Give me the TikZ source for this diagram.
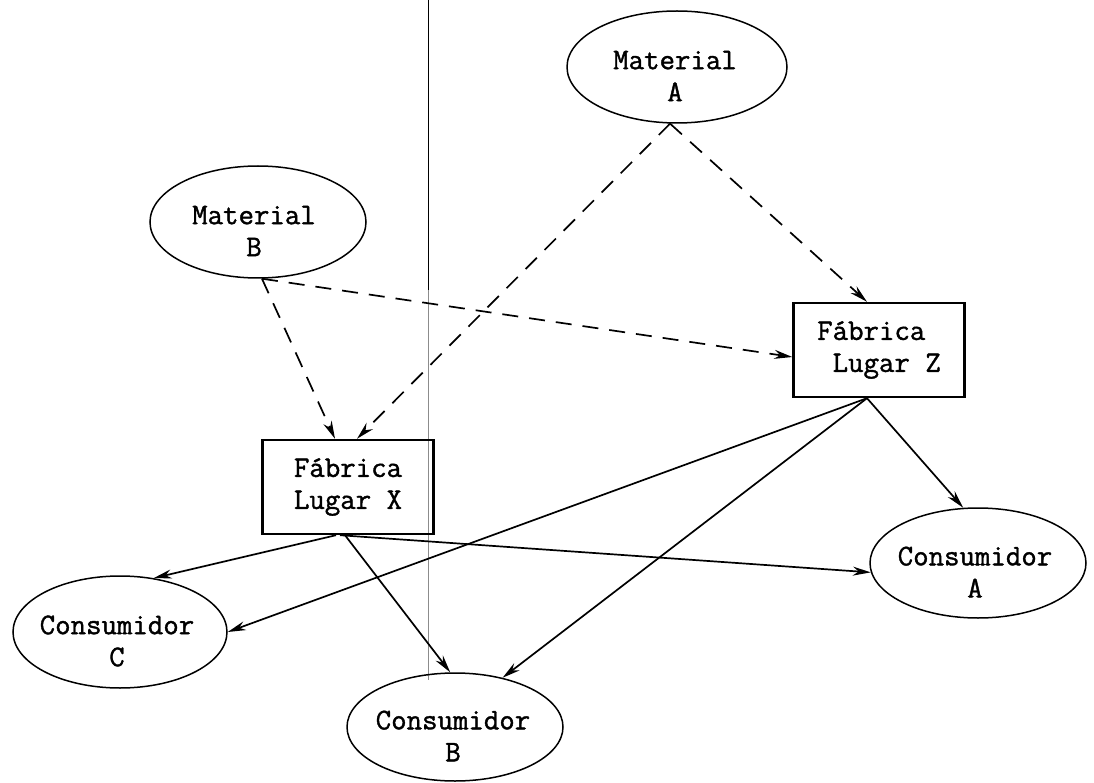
\documentclass[tikz,border=0pt]{standalone}
\usepackage{fontspec}
\newfontfamily\courlike{Latin Modern Mono}[FakeBold=1.3]
\usetikzlibrary{shapes.geometric,arrows.meta}
\begin{document}
\begin{tikzpicture}[x=1pt,y=-1pt,
  ell/.style={ellipse,draw,line width=1.5pt,inner sep=0pt},
  lbl/.style={font=\courlike\fontsize{30}{32}\selectfont,align=center,inner sep=0pt},
  fab/.style={rectangle,draw,line width=2.4pt,inner sep=0pt,minimum width=171pt,minimum height=94pt,font=\courlike\fontsize{30}{32}\selectfont},
  flow/.style={line width=1.7pt,-{Stealth[length=18pt,width=9pt]}},
  supply/.style={flow,dash pattern=on 16pt off 11pt},
  fold/.style={line width=0.9pt}
]
\fill[white] (0,0) rectangle (1094,783);
\useasboundingbox (0,0) rectangle (1094,783);

% scan fold line
\coordinate (f1) at (428,0);
\coordinate (f2) at (428,290);
\coordinate (f3) at (428,680);
\draw[fold] (f1) -- (f2);
\draw[fold,black!45] (f2) -- (f3);

% materials
\node[ell,minimum width=220pt,minimum height=112pt] (mA) at (677,67) {};
\node[lbl] (mAt) at (675,76) {Material\\A};
\node[ell,minimum width=216pt,minimum height=112pt] (mB) at (258,222) {};
\node[lbl] (mBt) at (254,231) {Material\\B};

% factories
\node[fab,align=center] (fX) at (348,487) {Fábrica\\Lugar X};
\node[fab,align=left] (fZ) at (879,350) {Fábrica\\~Lugar~Z};

% consumers
\node[ell,minimum width=216pt,minimum height=110pt] (cA) at (978,563) {};
\node[lbl] (cAt) at (975,572) {Consumidor\\A};
\node[ell,minimum width=214pt,minimum height=112pt] (cC) at (120,632) {};
\node[lbl] (cCt) at (117,641) {Consumidor\\C};
\node[ell,minimum width=216pt,minimum height=108pt] (cB) at (455,727) {};
\node[lbl] (cBt) at (453,736) {Consumidor\\B};

% supply (dashed)
\draw[supply] (mA.263) -- ([xshift=9pt]fX.north);
\draw[supply] (mA.263) -- ([xshift=-12pt]fZ.north);
\draw[supply] (mB.274) -- ([xshift=-13pt]fX.north);
\draw[supply] (mB.274) -- ([yshift=-7pt]fZ.west);

% distribution (solid)
\draw[flow] ([xshift=-12pt]fX.south) -- (cC.58);
\draw[flow] ([xshift=-3pt]fX.south) -- (cB.95);
\draw[flow] ([xshift=-8pt]fX.south) -- (cA.185);
\draw[flow] ([xshift=-12pt]fZ.south) -- (cA.105);
\draw[flow] ([xshift=-12pt]fZ.south) -- (cC.east);
\draw[flow] ([xshift=-12pt]fZ.south) -- (cB.46);
\end{tikzpicture}
\end{document}
